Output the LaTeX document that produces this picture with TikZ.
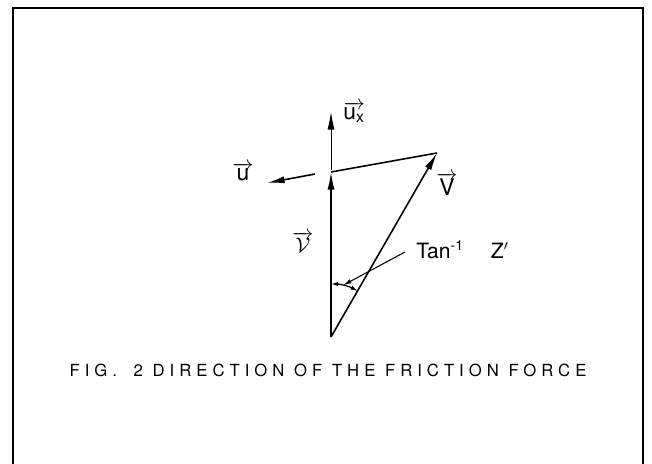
\documentclass[tikz,border=0pt]{standalone}
\usepackage{fontspec}
\setmainfont{TeX Gyre Heros}
\usetikzlibrary{arrows.meta}

\newcommand*{\pxw}{652}
\newcommand*{\pxh}{463}

\tikzset{
  vec/.style={line width=0.9pt,-{Latex[length=10pt,width=4pt]}},
  lbl/.style={inner sep=0pt,font=\fontsize{13}{14}\selectfont},
}

\begin{document}
\begin{tikzpicture}[x=0.02cm,y=0.02cm]
	\useasboundingbox (0,0) rectangle (\pxw,\pxh);

	% frame, open at the bottom
	\draw[line width=1.2pt] (13,-10) -- (13,455) -- (643,455) -- (643,-10);

	\coordinate (O) at (331,126);
	\coordinate (A) at (331,291);
	\coordinate (B) at (437,310);

	% triangle of velocities
	\draw[vec] (O) -- (A);
	\draw[line width=0.9pt] (A) -- (B);
	\draw[vec] (O) -- (B);

	% axis and friction directions
	\coordinate (ux0) at (331,293);
	\coordinate (ux1) at (331,351);
	\draw[line width=0.5pt,-{Latex[length=10pt,width=4pt]}] (ux0) -- (ux1);
	\coordinate (u0) at (315,289);
	\coordinate (u1) at (267,280);
	\draw[vec] (u0) -- (u1);

	% angle between the two
	\draw[line width=0.7pt,{Latex[length=4pt,width=2.5pt]}-{Latex[length=4pt,width=2.5pt]}]
	  (O) ++(90:53) arc[start angle=90,end angle=60,radius=53];
	\path (O) ++(77:53) coordinate (P);

	\node[lbl] (ulbl) at (243,291) {$\overrightarrow{\mbox{u}}$};
	\node[lbl,anchor=west] (uxlbl) at (343,351) {$\overrightarrow{\mbox{u}_{\mbox{\small x}}}$};
	\node[lbl] (vlbl) at (303,221) {$\overrightarrow{\mathcal{V}}$};
	\node[lbl] (Vlbl) at (447,279) {$\overrightarrow{\mbox{V}}$};
	\node[lbl,anchor=west,font=\fontsize{12}{13}\selectfont] (tan) at (416,213) {Tan\textsuperscript{-1}\quad\ Z$'$};

	\coordinate (t0) at (405,211);
	\draw[line width=0.6pt,-{Latex[length=5pt,width=2.5pt]}] (t0) -- (P);

	\node[font=\fontsize{9.5}{11}\selectfont\addfontfeature{LetterSpace=30}] (cap) at (328,93)
	  {FIG.\quad 2 DIRECTION OF THE FRICTION FORCE};

\end{tikzpicture}
\end{document}
